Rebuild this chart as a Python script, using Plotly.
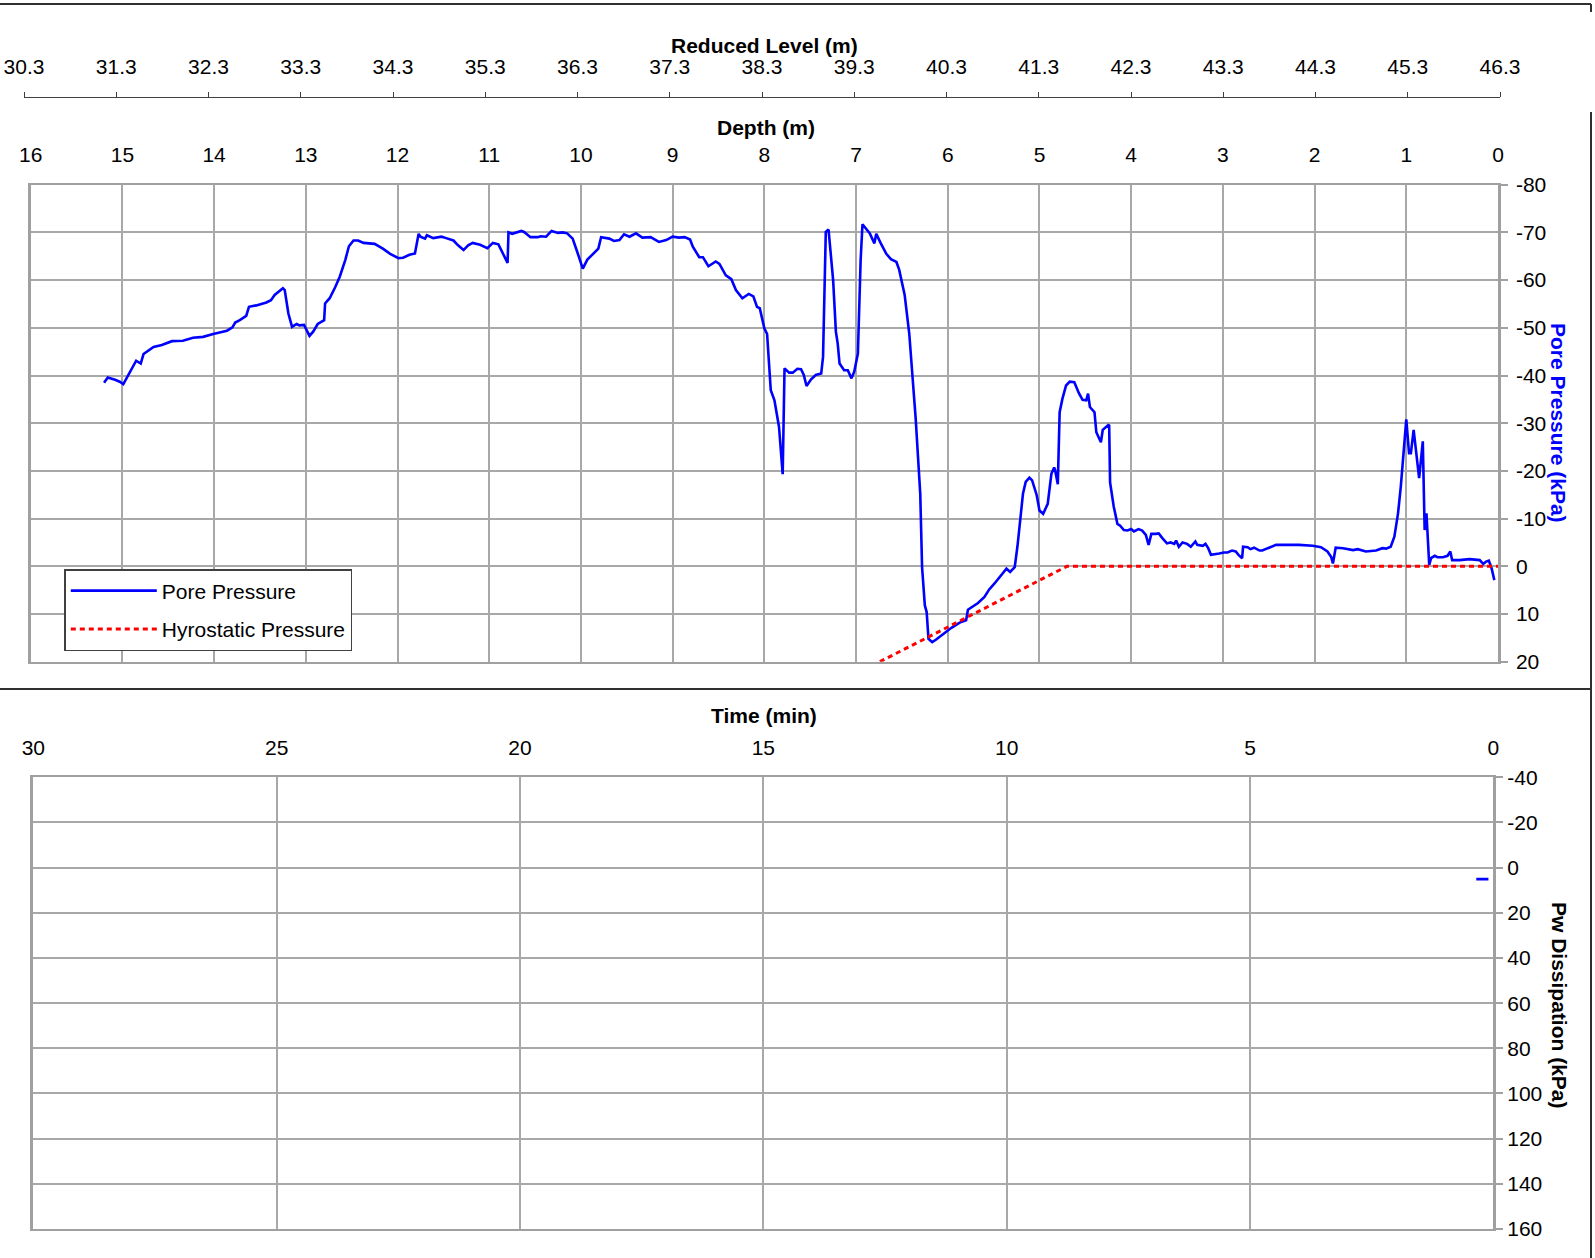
import plotly.graph_objects as go

W, H = 1595, 1258

# ---------------- data ----------------
depth_m = [
    15.20, 15.16, 15.08, 15.03, 14.99, 14.90, 14.85, 14.80, 14.77, 14.66, 14.57, 14.46, 14.34, 14.23,
    14.12, 14.01, 13.86, 13.80, 13.77, 13.72, 13.68, 13.65, 13.62, 13.54, 13.43, 13.38, 13.34, 13.25,
    13.23, 13.19, 13.15, 13.10, 13.07, 13.02, 12.96, 12.92, 12.87, 12.80, 12.79, 12.74, 12.68, 12.63,
    12.57, 12.53, 12.48, 12.43, 12.37, 12.30, 12.25, 12.16, 12.08, 11.99, 11.94, 11.87, 11.81, 11.77,
    11.75, 11.70, 11.68, 11.61, 11.52, 11.47, 11.39, 11.34, 11.28, 11.23, 11.18, 11.10, 11.02, 10.96,
    10.90, 10.80, 10.79, 10.75, 10.65, 10.62, 10.55, 10.47, 10.44, 10.38, 10.32, 10.25, 10.20, 10.15,
    10.09, 10.04, 9.98, 9.93, 9.87, 9.81, 9.78, 9.69, 9.64, 9.58, 9.53, 9.47, 9.40, 9.33, 9.24, 9.15,
    9.07, 9.00, 8.93, 8.87, 8.81, 8.78, 8.71, 8.67, 8.61, 8.53, 8.49, 8.42, 8.36, 8.31, 8.24, 8.17,
    8.12, 8.08, 8.05, 8.00, 7.97, 7.93, 7.89, 7.84, 7.80, 7.78, 7.73, 7.69, 7.64, 7.60, 7.57, 7.54,
    7.49, 7.44, 7.38, 7.36, 7.33, 7.30, 7.25, 7.22, 7.20, 7.18, 7.13, 7.09, 7.05, 7.02, 6.98, 6.95,
    6.93, 6.85, 6.80, 6.78, 6.73, 6.67, 6.62, 6.56, 6.53, 6.47, 6.42, 6.35, 6.30, 6.28, 6.25, 6.23,
    6.21, 6.17, 6.13, 6.04, 5.96, 5.87, 5.80, 5.78, 5.73, 5.67, 5.60, 5.55, 5.49, 5.42, 5.36, 5.32,
    5.27, 5.24, 5.21, 5.18, 5.15, 5.11, 5.08, 5.03, 5.00, 4.96, 4.91, 4.87, 4.84, 4.83, 4.80, 4.78,
    4.75, 4.71, 4.67, 4.62, 4.57, 4.53, 4.49, 4.47, 4.45, 4.40, 4.38, 4.33, 4.31, 4.25, 4.24, 4.23,
    4.19, 4.15, 4.12, 4.08, 4.04, 4.00, 3.97, 3.92, 3.88, 3.84, 3.81, 3.78, 3.73, 3.70, 3.66, 3.61,
    3.57, 3.53, 3.51, 3.48, 3.44, 3.39, 3.35, 3.30, 3.28, 3.22, 3.19, 3.16, 3.13, 3.08, 3.04, 2.99,
    2.95, 2.90, 2.86, 2.83, 2.79, 2.78, 2.73, 2.70, 2.66, 2.60, 2.57, 2.51, 2.42, 2.31, 2.17, 2.02,
    1.93, 1.86, 1.82, 1.80, 1.77, 1.69, 1.58, 1.53, 1.44, 1.33, 1.26, 1.22, 1.17, 1.13, 1.09, 1.06,
    1.02, 1.00, 0.97, 0.95, 0.92, 0.89, 0.86, 0.84, 0.82, 0.80, 0.78, 0.75, 0.73, 0.69, 0.66, 0.60,
    0.55, 0.52, 0.50, 0.42, 0.31, 0.20, 0.16, 0.13, 0.10, 0.07, 0.04,
]
pore_kpa = [
    -38.5, -39.6, -39.1, -38.7, -38.2, -41.3, -43.1, -42.5, -44.5, -46.0, -46.4, -47.2, -47.3, -47.9,
    -48.1, -48.7, -49.4, -50.1, -51.1, -51.6, -52.2, -52.5, -54.4, -54.7, -55.3, -55.8, -56.9, -58.3,
    -57.9, -53.0, -50.2, -50.8, -50.5, -50.6, -48.3, -49.2, -50.8, -51.6, -55.1, -56.2, -58.5, -60.7,
    -64.2, -67.1, -68.3, -68.3, -67.8, -67.7, -67.6, -66.6, -65.5, -64.6, -64.7, -65.3, -65.6, -69.7,
    -69.1, -68.7, -69.4, -68.8, -69.1, -68.8, -68.3, -67.3, -66.3, -67.3, -67.8, -67.4, -66.7, -67.8,
    -67.5, -63.6, -70.0, -69.7, -70.3, -70.1, -69.0, -69.0, -69.2, -69.1, -70.3, -69.9, -70.0, -69.8,
    -68.7, -65.9, -62.4, -64.3, -65.5, -66.6, -69.0, -68.7, -68.2, -68.4, -69.6, -69.1, -69.8, -68.9,
    -69.0, -68.0, -68.4, -69.1, -68.9, -69.0, -68.5, -67.0, -64.8, -64.8, -62.9, -63.9, -63.4, -61.0,
    -60.2, -57.9, -56.2, -57.1, -56.6, -54.4, -54.1, -49.9, -48.7, -36.9, -34.8, -29.2, -19.3, -41.5,
    -40.6, -40.6, -41.4, -41.3, -40.1, -37.8, -39.2, -40.1, -40.4, -43.9, -70.1, -70.6, -60.0, -49.2,
    -46.7, -42.5, -41.1, -41.1, -39.4, -40.8, -44.6, -64.2, -71.7, -69.8, -67.7, -69.7, -67.7, -65.5,
    -64.4, -63.8, -62.2, -56.9, -48.8, -31.0, -15.2, 0.2, 8.2, 9.6, 15.2, 15.9, 15.4, 14.1, 12.9, 11.8,
    11.3, 9.1, 8.5, 7.7, 6.4, 4.9, 3.6, 1.9, 0.5, 1.2, 0.2, -4.2, -9.6, -15.2, -17.7, -18.6, -18.0,
    -14.9, -11.7, -11.0, -13.1, -19.4, -20.7, -20.2, -17.2, -32.3, -35.1, -37.9, -38.7, -38.6, -36.3,
    -34.9, -34.8, -36.2, -33.4, -32.3, -28.1, -26.0, -28.6, -29.6, -29.5, -17.6, -12.5, -8.9, -8.5,
    -7.6, -7.5, -7.8, -7.3, -7.8, -7.5, -6.6, -4.5, -6.8, -6.8, -6.9, -5.9, -4.8, -5.0, -4.7, -5.4,
    -4.1, -5.0, -4.7, -4.1, -5.2, -4.5, -4.3, -4.7, -3.8, -2.4, -2.5, -2.7, -2.9, -2.9, -3.3, -3.1,
    -2.4, -1.7, -4.1, -4.0, -3.6, -3.9, -3.3, -3.3, -3.8, -4.5, -4.5, -4.5, -4.3, -4.0, -3.1, -2.0,
    -0.6, -3.9, -3.8, -3.4, -3.6, -3.1, -3.3, -3.8, -3.7, -4.1, -6.2, -11.1, -16.7, -25.1, -30.8,
    -23.7, -23.7, -28.6, -24.1, -18.5, -22.3, -26.2, -7.6, -11.1, -0.3, -1.7, -2.2, -1.9, -1.9, -2.2,
    -3.1, -1.3, -1.3, -1.5, -1.3, -0.5, -1.0, -1.2, 0.4, 2.9,
]
hydro_depth_m = [6.74, 4.70, 0.0]
hydro_kpa = [20.0, 0.0, 0.0]

diss_time_min = [0.35, 0.10]
diss_kpa = [5.1, 5.1]

depth_ticks = list(range(0, 17))
rl_ticks = [round(30.3 + i, 1) for i in range(17)]
time_ticks = [0, 5, 10, 15, 20, 25, 30]
pore_ticks = list(range(-80, 30, 10))
pw_ticks = list(range(-40, 180, 20))

# ---------------- helpers ----------------
def px(x):
    return x / W


def py(y):
    return 1 - y / H


FONT = "Liberation Sans, Arial, sans-serif"
GRID = "#a8a8a8"
AXC = "#a0a0a0"
FS = 21

fig = go.Figure()
fig.add_trace(go.Scatter(x=depth_m, y=pore_kpa, mode="lines", name="Pore Pressure",
                         line=dict(color="#0000ff", width=2.6), xaxis="x", yaxis="y",
                         legendgroup="a"))
fig.add_trace(go.Scatter(x=hydro_depth_m, y=hydro_kpa, mode="lines", name="Hyrostatic Pressure",
                         line=dict(color="#ff0000", width=3, dash="5px,4px"), xaxis="x", yaxis="y",
                         legendgroup="b"))
# carrier for the reduced-level axis (thin strip subplot)
fig.add_trace(go.Scatter(x=[], y=[], xaxis="x2", yaxis="y2", showlegend=False, hoverinfo="skip"))
fig.add_trace(go.Scatter(x=diss_time_min, y=diss_kpa, mode="lines", name="Pw Dissipation",
                         line=dict(color="#0000ff", width=2.6), xaxis="x3", yaxis="y3",
                         showlegend=False))

common_x = dict(showgrid=True, gridcolor=GRID, gridwidth=1.5, showline=True, mirror=True,
                linecolor=AXC, linewidth=2, ticks="", zeroline=False, automargin=False,
                tickfont=dict(size=FS, color="black"), side="top")
common_y = dict(showgrid=True, gridcolor=GRID, gridwidth=1.5, showline=True, mirror=True,
                linecolor=AXC, linewidth=2.5, ticks="outside", ticklen=7, tickwidth=2,
                tickcolor=AXC, zeroline=False, automargin=False,
                tickfont=dict(size=FS, color="black"), side="right")

fig.update_layout(
    width=W, height=H, margin=dict(l=0, r=0, t=0, b=0, pad=0, autoexpand=False),
    paper_bgcolor="white", plot_bgcolor="white",
    font=dict(family=FONT, size=FS, color="black"),
    xaxis=dict(domain=[px(30.7), px(1498)], range=[16, 0], anchor="y", tickvals=depth_ticks,
               ticktext=[str(v) for v in depth_ticks], ticklabelstandoff=12, **common_x),
    yaxis=dict(domain=[py(661.7), py(184.7)], range=[20, -80], anchor="x", tickvals=pore_ticks,
               ticktext=[str(v) for v in pore_ticks], ticklabelstandoff=4, **common_y),
    xaxis2=dict(domain=[px(24), px(1500)], range=[30.3, 46.3], anchor="y2", side="top",
                showgrid=False, zeroline=False, showline=True, linecolor="#404040",
                linewidth=1.2, ticks="outside", ticklen=5, tickcolor="#404040", tickwidth=1.2,
                tickvals=rl_ticks, ticktext=[f"{v:.1f}" for v in rl_ticks], automargin=False,
                tickfont=dict(size=FS, color="black"), ticklabelstandoff=10),
    yaxis2=dict(domain=[py(99), py(98)], range=[0, 1], anchor="x2", showgrid=False,
                zeroline=False, showline=False, showticklabels=False, ticks="", automargin=False),
    xaxis3=dict(domain=[px(33.3), px(1493.3)], range=[30, 0], anchor="y3", tickvals=time_ticks,
                ticktext=[str(v) for v in time_ticks], ticklabelstandoff=12, **common_x),
    yaxis3=dict(domain=[py(1229), py(777.3)], range=[160, -40], anchor="x3", tickvals=pw_ticks,
                ticktext=[str(v) for v in pw_ticks], ticklabelstandoff=0, **common_y),
    legend=dict(x=px(64.3), y=py(569), xanchor="left", yanchor="top", bgcolor="white",
                bordercolor="#404040", borderwidth=1.5, font=dict(size=FS, color="black"),
                itemwidth=86, tracegroupgap=8, traceorder="grouped"),
    showlegend=True,
)

ann = [
    dict(text="<b>Reduced Level (m)</b>", x=px(764), y=py(45)),
    dict(text="<b>Depth (m)</b>", x=px(766), y=py(127)),
    dict(text="<b>Time (min)</b>", x=px(764), y=py(715)),
]
for a in ann:
    fig.add_annotation(xref="paper", yref="paper", showarrow=False, xanchor="center",
                       yanchor="middle", font=dict(size=FS, color="black"), **a)
fig.add_annotation(text="<b>Pore Pressure (kPa)</b>", x=px(1559), y=py(423), xref="paper",
                   yref="paper", showarrow=False, textangle=90, xanchor="center",
                   yanchor="middle", font=dict(size=FS, color="#0000ff"))
fig.add_annotation(text="<b>Pw Dissipation (kPa)</b>", x=px(1560), y=py(1005), xref="paper",
                   yref="paper", showarrow=False, textangle=90, xanchor="center",
                   yanchor="middle", font=dict(size=FS, color="black"))

# outer frame lines
frame = [
    (0, 4, 1591, 4), (1591, 4, 1591, 12), (1591, 112, 1591, 1258), (0, 689, 1591, 689),
]
for x0, y0, x1, y1 in frame:
    fig.add_shape(type="line", xref="paper", yref="paper", x0=px(x0), y0=py(y0), x1=px(x1),
                  y1=py(y1), line=dict(color="#303030", width=2))

fig.write_html("out.html", config={"displayModeBar": False},
               post_script="document.body.style.margin='0px';")
